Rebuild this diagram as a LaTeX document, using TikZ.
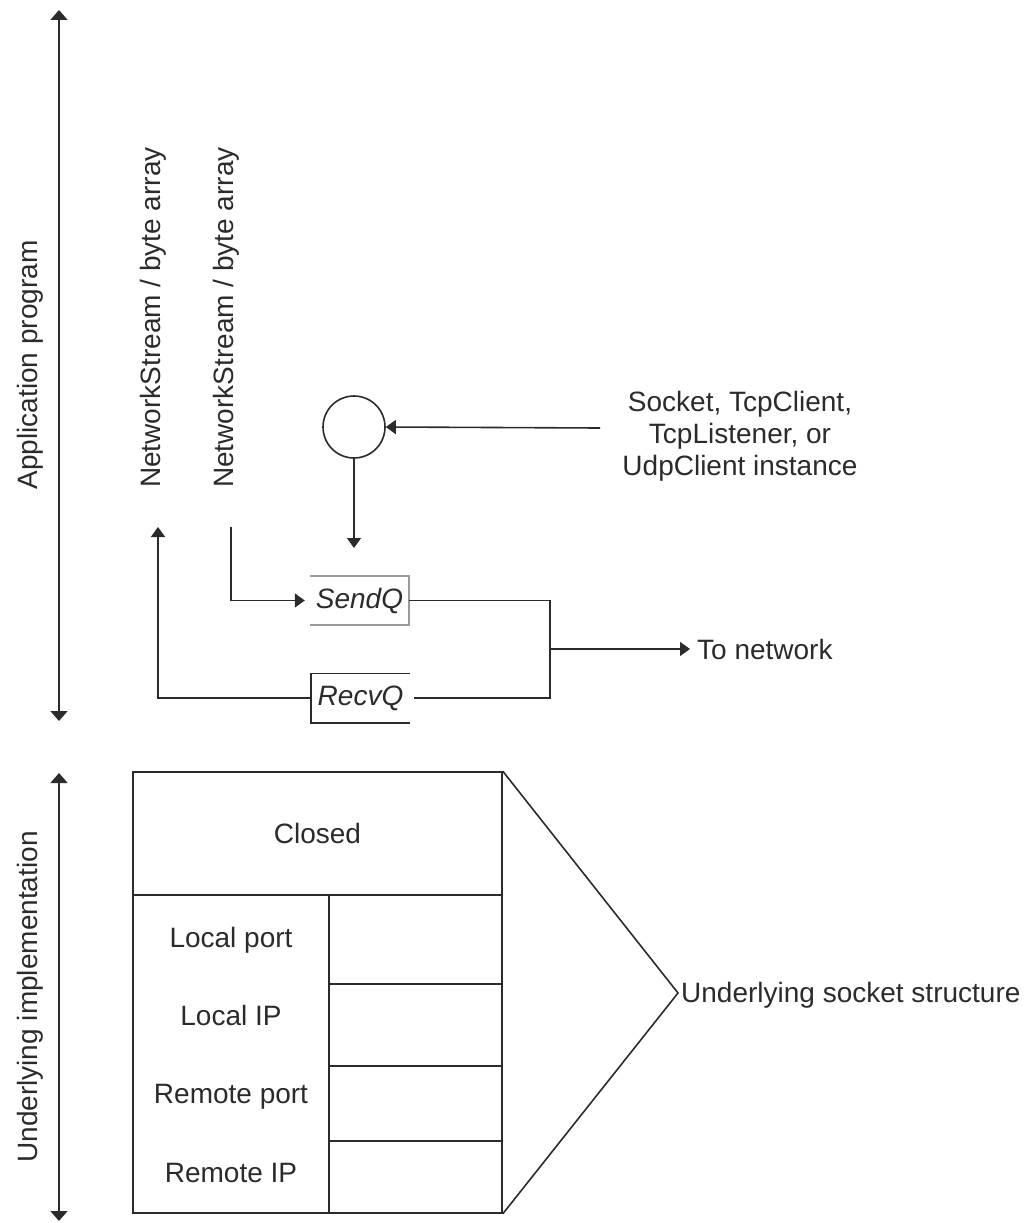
\documentclass[tikz,border=0pt]{standalone}
\usepackage{fontspec}
\setmainfont{Liberation Sans}
\usetikzlibrary{arrows.meta}
\definecolor{ink}{HTML}{2B2B2B}
\definecolor{qgray}{HTML}{9A9A9A}
\begin{document}
\begin{tikzpicture}[x=1pt,y=-1pt,
  every node/.style={font=\fontsize{28}{32}\selectfont, text=ink, inner sep=0pt},
  wire/.style={draw=ink, line width=1.6pt},
  bigtips/.style={{Triangle[width=17pt,length=10pt]}-{Triangle[width=17pt,length=10pt]}},
  tip/.style={-{Triangle[width=14pt,length=10pt]}},
  cell/.style={draw=ink, line width=1.6pt, rectangle, minimum width=#1},
  queue/.style={minimum width=99pt, minimum height=49pt, font=\fontsize{28}{32}\selectfont\itshape}
]
\useasboundingbox (0,0) rectangle (1031,1223);

% ---- side scales ----
\coordinate (appTop) at (59,10);
\coordinate (appBot) at (59,721);
\coordinate (impTop) at (59,773);
\coordinate (impBot) at (59,1221);
\draw[wire,bigtips] (appTop) -- (appBot);
\draw[wire,bigtips] (impTop) -- (impBot);
\node[rotate=90] (applbl) at (30,365) {Application program};
\node[rotate=90] (implbl) at (30,997) {Underlying implementation};

% ---- stream labels ----
\node[rotate=90, anchor=base east] (nsL) at (160,147) {NetworkStream / byte array};
\node[rotate=90, anchor=base east] (nsR) at (233,147) {NetworkStream / byte array};

% ---- socket instance ----
\node[circle, draw=ink, line width=1.6pt, minimum size=62pt] (sock) at (354,427) {};
\node[align=center] (inst) at (740,436) {Socket, TcpClient,\\TcpListener, or\\UdpClient instance};
\coordinate (instin) at (600,428);
\coordinate (qin) at (354,548);
\draw[wire,tip] (instin) -- (sock.east);
\draw[wire,tip] (sock.south) -- (qin);

% ---- queues ----
\node[queue] (sendq) at (359.5,600.5) {SendQ};
\draw[draw=qgray, line width=1.6pt] (sendq.north west) -- (sendq.north east) -- (sendq.south east) -- (sendq.south west);
\node[queue] (recvq) at (360.5,698) {RecvQ};
\draw[wire] (recvq.north east) -- (recvq.north west) -- (recvq.south west) -- (recvq.south east);

\coordinate (nsdown) at (231,527);
\coordinate (nsup) at (158,527);
\draw[wire,tip] (nsdown) |- ([xshift=-5pt]sendq.west);
\draw[wire,tip] (recvq.west) -| (nsup);

\coordinate (junc) at (550,649);
\draw[wire] (sendq.east) -| (junc) |- ([xshift=4pt]recvq.east);
\node[anchor=west] (tonet) at (697,649) {To network};
\draw[wire,tip] (junc) -- ([xshift=-7pt]tonet.west);

% ---- socket structure ----
\node[cell=369pt, minimum height=123pt] (closed) at (317.5,833.5) {Closed};
\node[cell=196pt, minimum height=318pt] (leftcol) at (231,1054) {};
\node[cell=173pt, minimum height=89pt] (r1) at (415.5,939.5) {};
\node[cell=173pt, minimum height=82pt] (r2) at (415.5,1025) {};
\node[cell=173pt, minimum height=75pt] (r3) at (415.5,1103.5) {};
\node[cell=173pt, minimum height=72pt] (r4) at (415.5,1177) {};
\node[anchor=base] (lport) at (231,947) {Local port};
\node[anchor=base] (lip) at (231,1025) {Local IP};
\node[anchor=base] (rport) at (231,1103) {Remote port};
\node[anchor=base] (rip) at (231,1182) {Remote IP};

\coordinate (apex) at (678,993);
\node[anchor=west] (struct) at (681,995) {Underlying socket structure};
\draw[wire] (closed.north east) -- (apex) -- (r4.south east);
\end{tikzpicture}
\end{document}
